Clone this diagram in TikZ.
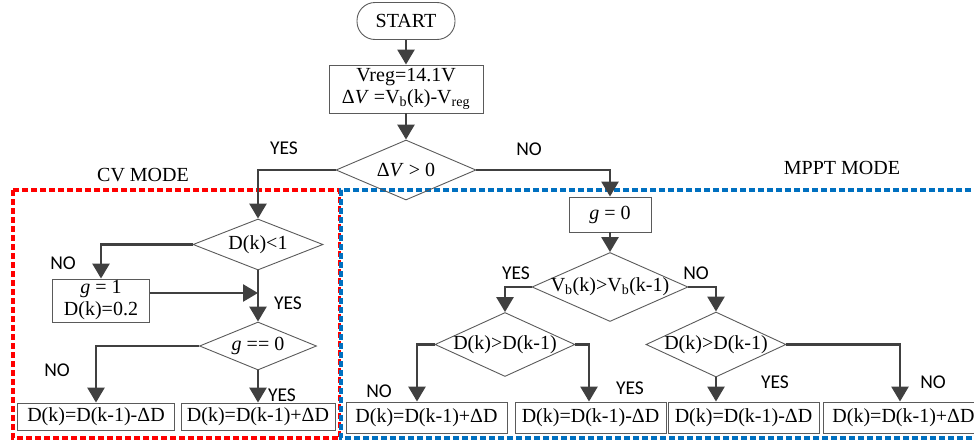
\documentclass[tikz,border=0pt]{standalone}
\usepackage{fontspec}
\setmainfont{Liberation Serif}
\newfontfamily\labfont{Carlito}
\usetikzlibrary{shapes.geometric,arrows.meta}
\definecolor{lnc}{HTML}{404040}
\definecolor{shc}{HTML}{5A5A5A}
\definecolor{cvred}{HTML}{FF0000}
\definecolor{mpblue}{HTML}{0070C0}
\begin{document}
\begin{tikzpicture}[x=1pt,y=-1pt,
  every node/.style={inner sep=0pt, font=\fontsize{20}{22}\selectfont},
  boxnode/.style={draw=shc, line width=0.9pt, rectangle, align=center},
  dianode/.style={draw=shc, line width=0.9pt, diamond},
  startnode/.style={draw=shc, line width=0.9pt, rectangle, rounded corners=18pt},
  conn/.style={draw=lnc, line width=2.7pt, -{Triangle[width=17pt,length=15pt]}},
  lab/.style={font=\labfont\fontsize{19.5}{22}\selectfont},
  modelab/.style={font=\fontsize{20}{22}\selectfont},
  reddash/.style={draw=cvred, line width=3.2pt, dash pattern=on 6pt off 3pt},
  bluedash/.style={draw=mpblue, line width=3.2pt, dash pattern=on 6pt off 3pt}
]
\useasboundingbox (0,0) rectangle (974,442);

% mode frames
\draw[reddash] (13,190) rectangle (339.5,438);
\draw[bluedash] (980,190) -- (341,190) -- (341,438) -- (980,438);

% nodes
\node[startnode, minimum width=98pt, minimum height=37pt] (start) at (406,21) {START};
\node[boxnode, minimum width=154pt, minimum height=48pt] (init) at (406,89)
  {Vreg=14.1V\\ Δ\textit{V} =V\textsubscript{b}(k)-V\textsubscript{reg}};
\node[dianode, minimum width=140pt, minimum height=60pt] (d0) at (406,170)
  {\makebox[0pt]{Δ\textit{V} > 0}};

% CV mode
\node[dianode, minimum width=130pt, minimum height=51pt] (d1) at (258,244.5)
  {\makebox[0pt]{D(k)<1}};
\node[boxnode, minimum width=97pt, minimum height=43pt] (g1) at (101,300.5)
  {\textit{g} = 1\\D(k)=0.2};
\node[dianode, minimum width=117pt, minimum height=48pt] (d2) at (258,346)
  {\makebox[0pt]{\textit{g} == 0}};
\node[boxnode, minimum width=157pt, minimum height=27pt] (cvA) at (96,416.5)
  {D(k)=D(k-1)-ΔD};
\node[boxnode, minimum width=154pt, minimum height=27pt] (cvB) at (258,416.5)
  {D(k)=D(k-1)+ΔD};

% MPPT mode
\node[boxnode, minimum width=82pt, minimum height=35pt] (g0) at (610,214.5)
  {\textit{g} = 0};
\node[dianode, minimum width=156pt, minimum height=69pt] (d3) at (610,287)
  {\makebox[0pt]{V\textsubscript{b}(k)>V\textsubscript{b}(k-1)}};
\node[dianode, minimum width=140pt, minimum height=64pt] (d4) at (505,344.5)
  {\makebox[0pt]{D(k)>D(k-1)}};
\node[dianode, minimum width=140pt, minimum height=65pt] (d5) at (716,344.5)
  {\makebox[0pt]{D(k)>D(k-1)}};
\node[boxnode, minimum width=161pt, minimum height=31pt] (mA) at (426.5,417.5)
  {D(k)=D(k-1)+ΔD};
\node[boxnode, minimum width=151pt, minimum height=31pt] (mB) at (590.5,417.5)
  {D(k)=D(k-1)-ΔD};
\node[boxnode, minimum width=151pt, minimum height=31pt] (mC) at (743.5,417.5)
  {D(k)=D(k-1)-ΔD};
\node[boxnode, minimum width=161pt, minimum height=31pt] (mD) at (903.5,417.5)
  {D(k)=D(k-1)+ΔD};

\coordinate (xa) at (417,0);
\coordinate (xb) at (589,0);
\coordinate (xd) at (900,0);

% connectors
\draw[conn] (start) -- (init);
\draw[conn] (init) -- (d0);
\draw[conn] (d0.west) -| (d1.north);
\draw[conn] (d0.east) -| (g0.north);
\draw[conn] (d1.west) -| (g1.north);
\draw[conn] (d1.south) -- (d2.north);
\draw[conn] ([yshift=7.5pt]g1.east) -- ([yshift=7.5pt]g1.east -| d1.south);
\draw[conn] (d2.west) -| (cvA.north);
\draw[conn] (d2.south) -- (cvB.north);
\draw[conn] (g0) -- (d3);
\draw[conn] (d3.west) -| (d4.north);
\draw[conn] (d3.east) -| (d5.north);
\draw[conn] (d4.west) -| (xa |- mA.north);
\draw[conn] (d4.east) -| (xb |- mB.north);
\draw[conn] (d5.south) -- (d5.south |- mC.north);
\draw[conn] (d5.east) -| (xd |- mD.north);

% labels
\node[lab] (l1) at (284,148) {YES};
\node[lab] (l2) at (529,149) {NO};
\node[modelab] (cvm) at (143,175) {CV MODE};
\node[modelab] (mpm) at (842,168) {MPPT MODE};
\node[lab] (l3) at (63,263) {NO};
\node[lab] (l4) at (288,303) {YES};
\node[lab] (l5) at (57,370) {NO};
\node[lab] (l6) at (282,395) {YES};
\node[lab] (l7) at (516,273) {YES};
\node[lab] (l8) at (696,273) {NO};
\node[lab] (l9) at (379,391) {NO};
\node[lab] (l10) at (630,388) {YES};
\node[lab] (l11) at (775,382) {YES};
\node[lab] (l12) at (933,382) {NO};
\end{tikzpicture}
\end{document}
